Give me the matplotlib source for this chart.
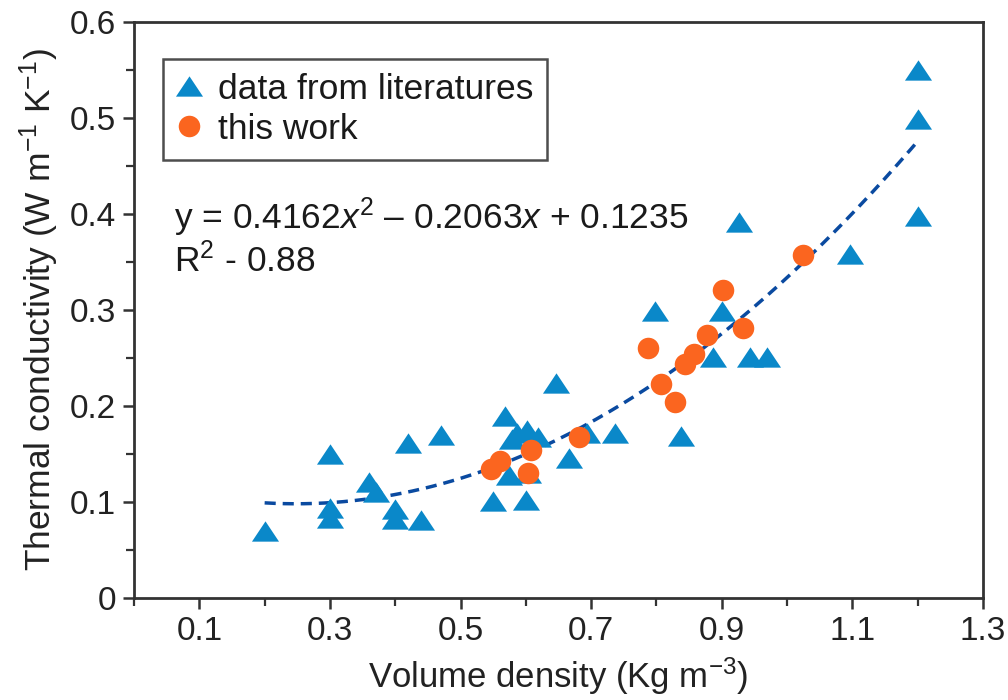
import numpy as np
import matplotlib
matplotlib.use("Agg")
import matplotlib.pyplot as plt
from matplotlib.ticker import FixedLocator

# data from literatures (triangles)
lit_density = [0.20, 0.30, 0.30, 0.30, 0.36, 0.37, 0.40, 0.40, 0.44, 0.42, 0.47,
               0.55, 0.60, 0.568, 0.579, 0.586, 0.602, 0.618, 0.574, 0.603, 0.666,
               0.647, 0.693, 0.737, 0.798, 0.838, 0.887, 0.90, 0.927, 0.944, 0.97,
               1.097, 1.20, 1.20, 1.20]
lit_conductivity = [0.07, 0.150, 0.094, 0.083, 0.121, 0.110, 0.093, 0.082, 0.081, 0.161, 0.170,
                    0.101, 0.102, 0.189, 0.165, 0.172, 0.175, 0.167, 0.128, 0.130, 0.146,
                    0.224, 0.172, 0.172, 0.299, 0.169, 0.251, 0.299, 0.391, 0.251, 0.251,
                    0.358, 0.550, 0.499, 0.398]

# this work (circles)
work_density = [0.547, 0.560, 0.603, 0.608, 0.681, 0.787, 0.807, 0.828, 0.844, 0.858,
                0.878, 0.902, 0.932, 1.025]
work_conductivity = [0.134, 0.142, 0.130, 0.154, 0.167, 0.260, 0.223, 0.204, 0.243, 0.254,
                     0.274, 0.321, 0.281, 0.357]

# quadratic fit shown on the chart
fit_coeffs = [0.4162, -0.2063, 0.1235]
fit_range = [0.2, 1.2]

x_major = [0.1, 0.3, 0.5, 0.7, 0.9, 1.1, 1.3]
x_minor = [0.0, 0.2, 0.4, 0.6, 0.8, 1.0, 1.2]
y_major = [0.0, 0.1, 0.2, 0.3, 0.4, 0.5, 0.6]
y_minor = [0.05, 0.15, 0.25, 0.35, 0.45, 0.55]
y_labels = ["0", "0.1", "0.2", "0.3", "0.4", "0.5", "0.6"]

plt.rcParams["font.family"] = ["Liberation Sans", "DejaVu Sans"]
plt.rcParams["mathtext.fontset"] = "custom"
plt.rcParams["mathtext.rm"] = "Liberation Sans"
plt.rcParams["mathtext.it"] = "Liberation Sans:italic"

# flattened triangle like the original
tri = [(-1, -0.75), (1, -0.75), (0, 0.75), (-1, -0.75)]

fig = plt.figure(figsize=(10.08, 7.0), dpi=100)
ax = fig.add_axes([0.133, 0.146, 0.842, 0.823])

xs = np.linspace(fit_range[0], fit_range[1], 200)
ax.plot(xs, np.polyval(fit_coeffs, xs), color="#0a4aa0", lw=2.5,
        dashes=(3.2, 2.0), zorder=2)

ax.plot(lit_density, lit_conductivity, ls="none", marker=tri, ms=19.5,
        color="#0a88c9", mec="none", label="data from literatures", zorder=3)
ax.plot(work_density, work_conductivity, ls="none", marker="o", ms=15.5,
        color="#fb651f", mec="none", label="this work", zorder=4)

ax.set_xlim(0, 1.3)
ax.set_ylim(0, 0.6)
ax.xaxis.set_major_locator(FixedLocator(x_major))
ax.xaxis.set_minor_locator(FixedLocator(x_minor))
ax.set_xticklabels([f"{v:.1f}" for v in x_major])
ax.yaxis.set_major_locator(FixedLocator(y_major))
ax.yaxis.set_minor_locator(FixedLocator(y_minor))
ax.set_yticklabels(y_labels)

ax.tick_params(which="major", direction="out", length=8, width=1.8,
               labelsize=24, color="#333333", pad=5, labelcolor="#222222")
ax.tick_params(which="minor", direction="out", length=5.5, width=1.6, color="#333333")
for sp in ax.spines.values():
    sp.set_linewidth(2)
    sp.set_color("#333333")

ax.set_xlabel("Volume density (Kg m$^{-3}$)", fontsize=25, labelpad=6, color="#222222")
ax.set_ylabel("Thermal conductivity (W m$^{-1}$ K$^{-1}$)", fontsize=25.5, labelpad=6,
              color="#222222")

ax.text(0.047, 0.66, "y = 0.4162$x^2$ \u2013 0.2063$x$ + 0.1235", transform=ax.transAxes,
        fontsize=25.5, va="center", color="#1a1a1a")
ax.text(0.047, 0.585, "R$^2$ - 0.88", transform=ax.transAxes, fontsize=25.5, va="center",
        color="#1a1a1a")

leg = ax.legend(loc="upper left", bbox_to_anchor=(0.034, 0.936), fontsize=25.5,
                frameon=True, fancybox=False, edgecolor="#222222",
                handlelength=0.7, handletextpad=0.45, borderpad=0.4,
                labelspacing=0.2, borderaxespad=0)
leg.get_frame().set_linewidth(1.8)
for t in leg.get_texts():
    t.set_color("#1a1a1a")

fig.savefig("out.png", dpi=100)
